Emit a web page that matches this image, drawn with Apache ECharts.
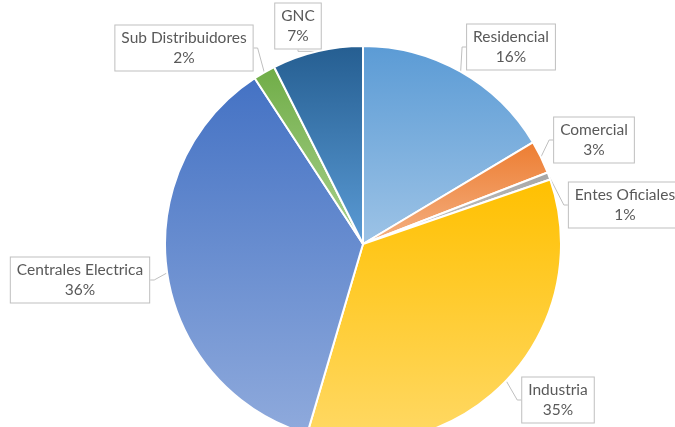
<!DOCTYPE html>
<html>
<head>
<meta charset="utf-8">
<script src="https://cdn.jsdelivr.net/npm/echarts@6/dist/echarts.min.js"></script>
<style>html,body{margin:0;padding:0;background:#fff}#c{width:675px;height:427px}</style>
</head>
<body>
<div id="c"></div>
<script>
var categories = ['Residencial', 'Comercial', 'Entes Oficiales', 'Industria', 'Centrales Electrica', 'Sub Distribuidores', 'GNC'];
var values = [16.4, 2.7, 0.6, 34.8, 36.2, 1.8, 7.4];
var topColors = ['#5B9BD5', '#ED7D31', '#A5A5A5', '#FFC000', '#4472C4', '#70AD47', '#255E91'];
var bottomColors = ['#9DC3E6', '#F4B183', '#C9C9C9', '#FFD966', '#8FAADC', '#A9D18E', '#5B9BD5'];
var labelCenters = [[511, 47], [594, 140], [625, 205], [558, 400], [80, 280], [184, 48], [298, 26]];

var chart = echarts.init(document.getElementById('c'), null, {renderer: 'canvas'});
var data = categories.map(function (name, i) {
  return {
    name: name,
    value: values[i],
    itemStyle: {
      color: new echarts.graphic.LinearGradient(0, 0, 0, 1, [
        {offset: 0, color: topColors[i]},
        {offset: 1, color: bottomColors[i]}
      ])
    }
  };
});
chart.setOption({
  animation: false,
  series: [{
    type: 'pie',
    center: [363, 244],
    radius: 198,
    startAngle: 90,
    clockwise: true,
    avoidLabelOverlap: false,
    data: data,
    itemStyle: {borderColor: '#ffffff', borderWidth: 2},
    label: {
      show: true,
      position: 'outside',
      formatter: function (p) { return p.name + '\n' + Math.round(p.percent) + '%'; },
      fontFamily: 'Lato, "Open Sans", sans-serif',
      fontSize: 15.5,
      lineHeight: 20,
      color: '#595959',
      align: 'center',
      backgroundColor: '#ffffff',
      borderColor: '#BFBFBF',
      borderWidth: 1,
      padding: [3, 6, 2, 6]
    },
    labelLine: {
      show: true,
      length: 6,
      length2: 4,
      lineStyle: {color: '#BFBFBF', width: 1}
    },
    labelLayout: function (params) {
      var c = labelCenters[params.dataIndex];
      return {x: c[0], y: c[1], align: 'center', verticalAlign: 'middle'};
    }
  }]
});
</script>
</body>
</html>
